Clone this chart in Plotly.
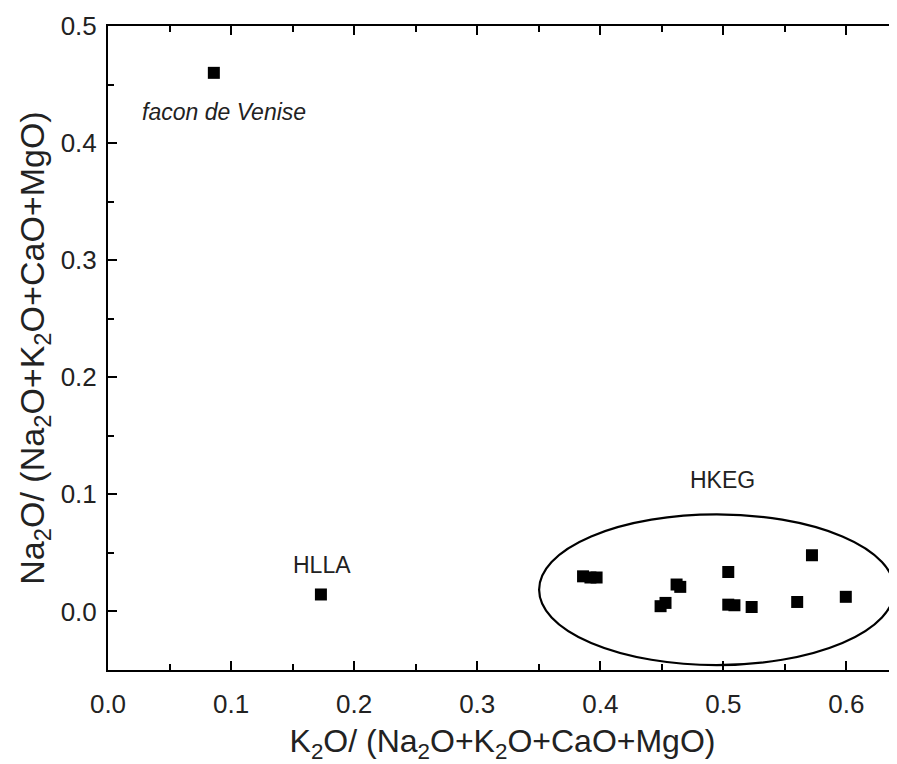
import plotly.graph_objects as go

# Data
x_fdv = [0.086]
y_fdv = [0.460]
x_hlla = [0.173]
y_hlla = [0.0145]
x_hkeg = [0.386, 0.392, 0.397, 0.462, 0.465, 0.449, 0.453, 0.504, 0.504, 0.509, 0.523, 0.560, 0.572, 0.5995]
y_hkeg = [0.030, 0.029, 0.029, 0.023, 0.021, 0.0045, 0.0073, 0.0337, 0.0058, 0.0053, 0.0038, 0.0081, 0.048, 0.0125]

labels = ["facon de Venise", "HLLA", "HKEG"]
label_x = [0.094, 0.174, 0.499]
label_y = [0.4265, 0.040, 0.112]

ellipse = dict(x0=0.3503, x1=0.639, y0=-0.0458, y1=0.0829)

x_ticks = [0.0, 0.1, 0.2, 0.3, 0.4, 0.5, 0.6]
y_ticks = [0.0, 0.1, 0.2, 0.3, 0.4, 0.5]

FONT = "Liberation Sans, Arial, sans-serif"
marker = dict(symbol="square", size=12, color="black")

fig = go.Figure()
for xs, ys in [(x_fdv, y_fdv), (x_hlla, y_hlla), (x_hkeg, y_hkeg)]:
    fig.add_trace(go.Scatter(x=xs, y=ys, mode="markers", marker=marker, showlegend=False))

fig.add_shape(type="circle", xref="x", yref="y", line=dict(color="black", width=2.2), **ellipse)

for i, t in enumerate(labels):
    fig.add_annotation(x=label_x[i], y=label_y[i], text=("<i>%s</i>" % t) if i == 0 else t,
                       showarrow=False, font=dict(family=FONT, size=23, color="#222"))

axis_common = dict(
    showgrid=False, zeroline=False, showline=True, linecolor="black", linewidth=2,
    ticks="inside", ticklen=9, tickwidth=1.5, tickcolor="black",
    tickfont=dict(family=FONT, size=26, color="#222"),
    minor=dict(ticks="inside", ticklen=6, tickwidth=1.5, tickcolor="black", dtick=0.05),
)

fig.update_xaxes(range=[0, 0.6411], tickvals=x_ticks, ticktext=["%.1f" % v for v in x_ticks],
                 mirror="ticks", ticklabelstandoff=10,
                 title=dict(text="K<sub>2</sub>O/ (Na<sub>2</sub>O+K<sub>2</sub>O+CaO+MgO)",
                            font=dict(family=FONT, size=32, color="#222"), standoff=12),
                 **axis_common)
fig.update_yaxes(range=[-0.05, 0.5], tickvals=y_ticks, ticktext=["%.1f" % v for v in y_ticks],
                 ticklabelstandoff=4, automargin=True,
                 title=dict(text="Na<sub>2</sub>O/ (Na<sub>2</sub>O+K<sub>2</sub>O+CaO+MgO)",
                            font=dict(family=FONT, size=34, color="#222"), standoff=6),
                 **axis_common)

fig.update_layout(width=889, height=756, margin=dict(l=100, r=0, t=18, b=94),
                  plot_bgcolor="white", paper_bgcolor="white")

fig.write_html("out.html")
